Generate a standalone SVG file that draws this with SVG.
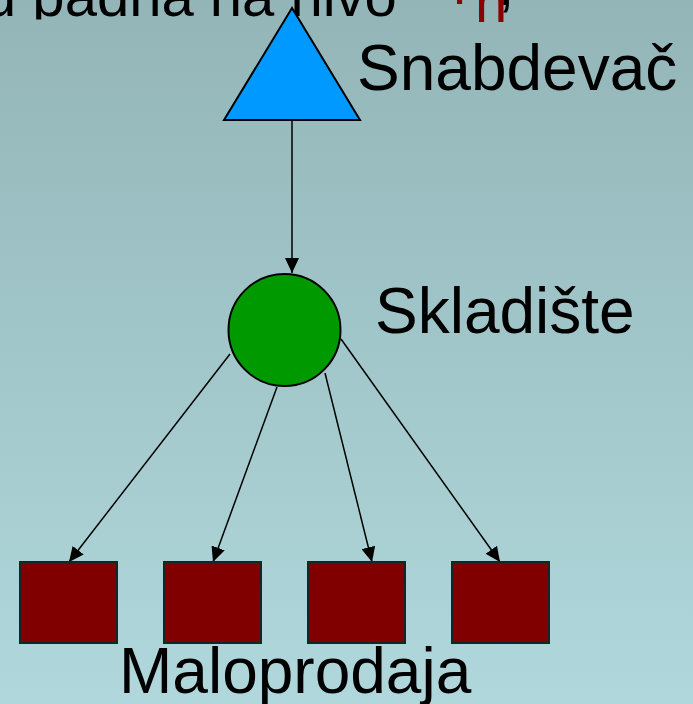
<svg xmlns="http://www.w3.org/2000/svg" width="693" height="704" viewBox="0 0 693 704">
  <defs>
    <linearGradient id="bg" x1="0" y1="0" x2="0" y2="1">
      <stop offset="0" stop-color="#93b5b7"/>
      <stop offset="1" stop-color="#b0d8dc"/>
    </linearGradient>
    <marker id="arr" markerUnits="userSpaceOnUse" markerWidth="16" markerHeight="14" refX="15" refY="7" orient="auto">
      <path d="M0,0 L15,7 L0,14 z" fill="#000"/>
    </marker>
    <clipPath id="topclip"><rect x="0" y="0" width="693" height="19.5"/></clipPath>
    <style>
      .lbl { font-family: "Liberation Sans", Arial, sans-serif; font-size: 64px; fill: #000; }
      .top { font-family: "Liberation Sans", Arial, sans-serif; font-size: 58px; fill: #000; }
      .red { fill: #8b0000; }
      .conn { stroke: #000; stroke-width: 1.5; fill: none; marker-end: url(#arr); }
      .shop { fill: #800000; stroke: #142626; stroke-width: 2; }
    </style>
  </defs>
  <rect x="0" y="0" width="693" height="704" fill="url(#bg)"/>

  <g id="heading">
    <text class="top" x="-16" y="16" clip-path="url(#topclip)">u padna na nivo</text>
    <text class="top red" x="453" y="4">r</text>
    <text class="top red" x="475" y="22" font-size="33">n</text>
    <text class="top" x="498" y="5">,</text>
  </g>

  <g id="connectors">
    <line class="conn" x1="292" y1="114" x2="292" y2="273"/>
    <line class="conn" x1="230" y1="354" x2="69" y2="562"/>
    <line class="conn" x1="277" y1="387" x2="213" y2="562"/>
    <line class="conn" x1="325" y1="373" x2="372" y2="562"/>
    <line class="conn" x1="341" y1="339" x2="500" y2="562"/>
  </g>

  <g id="snabdevac">
    <polygon points="292,8 224,120 360,120" fill="#0099ff" stroke="#000" stroke-width="2"/>
    <text class="lbl" x="357" y="90">Snabdevač</text>
  </g>

  <g id="skladiste">
    <circle cx="284.5" cy="330" r="56" fill="#009900" stroke="#000" stroke-width="2"/>
    <text class="lbl" x="375" y="333">Skladište</text>
  </g>

  <g id="maloprodaja1"><rect class="shop" x="20" y="562" width="97" height="81"/></g>
  <g id="maloprodaja2"><rect class="shop" x="164" y="562" width="97" height="81"/></g>
  <g id="maloprodaja3"><rect class="shop" x="308" y="562" width="97" height="81"/></g>
  <g id="maloprodaja4"><rect class="shop" x="452" y="562" width="97" height="81"/></g>

  <g id="maloprodaja-label">
    <text class="lbl" x="119" y="693">Maloprodaja</text>
  </g>
</svg>
